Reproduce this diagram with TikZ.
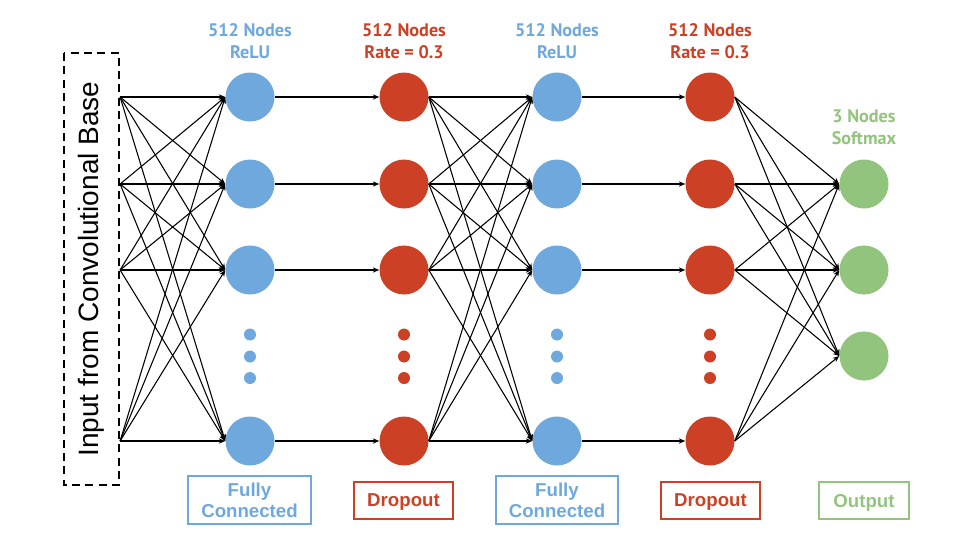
\documentclass[tikz,border=0pt]{standalone}
\usepackage{fontspec}
\setmainfont{Liberation Sans}
\newfontfamily\lblfont{PT Sans}
\usetikzlibrary{arrows.meta}
\definecolor{cb}{HTML}{6FA8DC}
\definecolor{cr}{HTML}{CC4125}
\definecolor{cg}{HTML}{93C47D}

\begin{document}
\begin{tikzpicture}[x=0.75pt,y=-0.75pt,>={Stealth[length=1.7mm,width=1.4mm]},
  n/.style={circle,minimum size=36.75pt,inner sep=0pt},
  dt/.style={circle,minimum size=9pt,inner sep=0pt},
  e/.style={->,line width=0.8pt},
  t/.style={font=\lblfont\bfseries\fontsize{13.6}{16.5}\selectfont,align=center},
  lb/.style={draw,line width=1.4pt,font=\bfseries\fontsize{14}{15.75}\selectfont,align=center,inner sep=0pt,
    text depth=0pt,minimum height=27.75pt}]
  \useasboundingbox (0,0) rectangle (960,540);
  % input block
  \node[draw,dash pattern=on 6pt off 4pt,line width=1.4pt,rotate=90,minimum width=324pt,minimum height=41.5pt,
    font=\fontsize{21}{24}\selectfont](inp) at (91.5,269){Input from Convolutional Base};
  % layers
  \foreach \c/\x/\col in {1/250/cb,2/404/cr,3/557/cb,4/710/cr}{
    \foreach \r/\y in {1/97,2/184,3/270,4/441}
      \node[n,fill=\col](n\c\r) at (\x,\y){};
    \foreach \d/\y in {1/334.5,2/356.5,3/378}
      \node[dt,fill=\col](d\c\d) at (\x,\y){};
  }
  \foreach \r/\y in {1/184,2/270,3/356}
    \node[n,fill=cg](g\r) at (864,\y){};
  \foreach \r in {1,...,4}
    \coordinate (i\r) at (inp.south |- n1\r);
  % connections
  \foreach \a in {1,...,4}{
    \foreach \b in {1,...,4}{
      \draw[e](i\a)--(n1\b.west);
      \draw[e](n2\a.east)--(n3\b.west);
    }
    \draw[e](n1\a.east)--(n2\a.west);
    \draw[e](n3\a.east)--(n4\a.west);
    \foreach \b in {1,...,3}
      \draw[e](n4\a.east)--(g\b.west);
  }
  % labels
  \node[t,text=cb](t1) at (250,41){512 Nodes\\ReLU};
  \node[t,text=cr](t2) at (404,41){512 Nodes\\Rate = 0.3};
  \node[t,text=cb](t3) at (557,41){512 Nodes\\ReLU};
  \node[t,text=cr](t4) at (710,41){512 Nodes\\Rate = 0.3};
  \node[t,text=cg](t5) at (864,127){3 Nodes\\Softmax};
  \node[lb,cb,minimum width=92pt,minimum height=36pt](b1) at (249.5,500){Fully\\Connected};
  \node[lb,cr,minimum width=74pt](b2) at (403.5,500.5){Dropout};
  \node[lb,cb,minimum width=92pt,minimum height=36pt](b3) at (557,500){Fully\\Connected};
  \node[lb,cr,minimum width=74pt](b4) at (710.5,500.5){Dropout};
  \node[lb,cg,minimum width=67.5pt](b5) at (864,500.5){Output};
\end{tikzpicture}
\end{document}
